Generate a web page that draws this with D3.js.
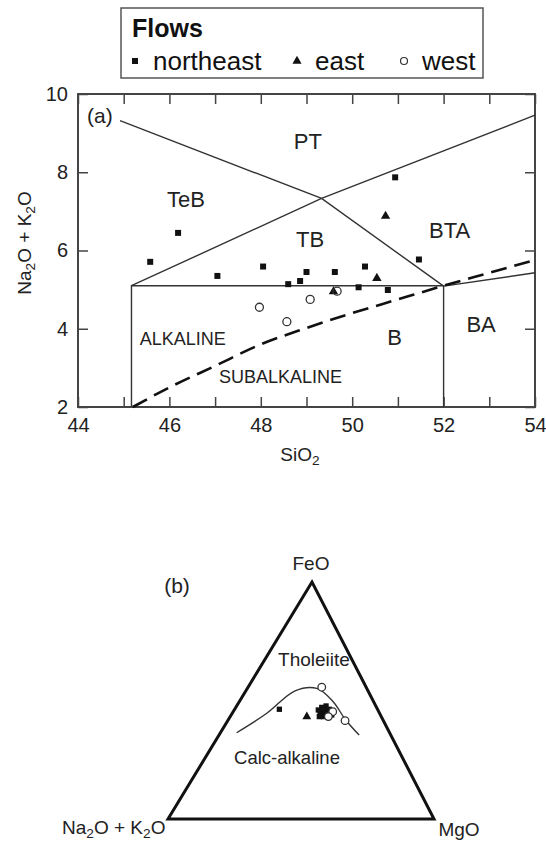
<!DOCTYPE html>
<html lang="en">
<head>
<meta charset="UTF-8">
<title>TAS and AFM diagrams</title>
<script src="https://d3js.org/d3.v7.min.js"></script>
<style>
  body { margin: 0; background: #fff; }
  svg { font-family: Arial, "Liberation Sans", Helvetica, sans-serif; }
</style>
</head>
<body>
<svg width="546" height="841"></svg>
<script>
    // ---- (a) SiO2 vs total alkali ----
    let northeast = [[45.58, 5.71], [46.19, 6.45], [47.05, 5.35], [48.05, 5.59], [48.60, 5.14],
                     [48.86, 5.22], [49.00, 5.45], [49.62, 5.45], [50.14, 5.06], [50.28, 5.59],
                     [50.78, 4.99], [51.46, 5.77], [50.94, 7.87]];
    let east = [[50.73, 6.88], [50.54, 5.29], [49.59, 4.95]];
    let west = [[47.97, 4.55], [48.57, 4.18], [49.08, 4.75], [49.67, 4.96]];

    let xTicks = [44, 45, 46, 47, 48, 49, 50, 51, 52, 53, 54];
    let yTicks = [2, 4, 6, 8, 10];

    let fieldLines = [
        [[44.92, 9.32], [49.33, 7.33], [52, 5.09]],
        [[45.17, 2], [45.17, 5.1], [52, 5.1], [52, 2]],
        [[45.17, 5.1], [49.33, 7.33], [54, 9.46]],
        [[52, 5.09], [54, 5.43]]
    ];
    let alkalineDivide = [[45.2, 2.0], [46, 2.5], [47, 3.05], [48, 3.6], [49, 4.02], [50, 4.4],
                          [51, 4.75], [52, 5.1], [53, 5.43], [54, 5.76]];
    let fieldNames = [
        { name: 'PT', x: 49.03, y: 8.80 }, { name: 'TeB', x: 46.36, y: 7.32 },
        { name: 'TB', x: 49.08, y: 6.29 }, { name: 'BTA', x: 52.13, y: 6.52 },
        { name: 'B', x: 50.93, y: 3.78 }, { name: 'BA', x: 52.82, y: 4.13 }
    ];
    let seriesNames = ['northeast', 'east', 'west'];

    // ---- (b) AFM ternary, [A, F, M] percent ----
    let afmNortheast = [[36.9, 46.3, 16.8], [22.4, 46.0, 31.6], [20.6, 47.1, 32.3], [19.8, 46.3, 33.9],
                        [22.5, 44.3, 33.2], [20.9, 44.6, 34.5], [19.3, 45.3, 35.4], [19.8, 43.5, 36.7],
                        [21.8, 43.2, 35.0], [23.3, 43.2, 33.5], [18.7, 47.7, 33.6], [18.3, 43.9, 37.8],
                        [18.1, 46.3, 35.6]];
    let afmEast = [[28.0, 43.2, 28.8], [21.4, 45.1, 33.5], [20.5, 43.9, 35.6]];
    let afmWest = [[16.7, 55.6, 27.7], [17.3, 45.3, 37.4], [19.9, 43.2, 36.9], [14.4, 41.5, 44.1]];
    let afmDivide = [[57.5, 36.4, 6.1], [42.4, 44.6, 13.0], [27.4, 54.1, 18.5], [18.8, 55.1, 26.1],
                     [15.2, 49.5, 35.3], [14.1, 42.1, 43.8], [11.9, 35.4, 52.7]];

    let ink = '#333';
    let svg = d3.select('svg');

    // text with subscripts: parts like ['Na', ['2'], 'O + K', ['2'], 'O']
    function richText(sel, parts) {
        let shift = 0;
        parts.forEach(p => {
            if (Array.isArray(p)) {
                sel.append('tspan').attr('dy', '0.28em').attr('font-size', '72%').text(p[0]);
                shift = 1;
            } else {
                let t = sel.append('tspan').text(p);
                if (shift) t.attr('dy', '-0.2em');
                shift = 0;
            }
        });
        return sel;
    }

    // ---------- legend ----------
    let legend = svg.append('g');
    legend.append('rect').attr('x', 121).attr('y', 8).attr('width', 362).attr('height', 70)
        .attr('fill', 'none').attr('stroke', '#555').attr('stroke-width', 1.5);
    legend.append('text').attr('x', 132).attr('y', 37).attr('font-size', 25).attr('font-weight', 'bold')
        .attr('fill', '#111').text('Flows');
    let legendX = [135, 297, 404];
    seriesNames.forEach((name, i) => {
        let g = legend.append('g').attr('transform', `translate(${legendX[i]},61)`);
        if (i == 0) g.append('path').attr('d', d3.symbol(d3.symbolSquare, 36)()).attr('fill', '#111');
        if (i == 1) g.append('path').attr('d', d3.symbol(d3.symbolTriangle, 36)()).attr('fill', '#111');
        if (i == 2) g.append('circle').attr('r', 3.5).attr('fill', 'white').attr('stroke', ink).attr('stroke-width', 1.2);
        legend.append('text').attr('x', legendX[i] + 18).attr('y', 70).attr('font-size', 26).attr('fill', '#111').text(name);
    });

    // ---------- (a) ----------
    let x = d3.scaleLinear().domain([44, 54]).range([78, 535]);
    let y = d3.scaleLinear().domain([2, 10]).range([407, 94]);

    let axisStyle = g => {
        g.select('.domain').remove();
        g.selectAll('.tick line').attr('stroke', '#444').attr('stroke-width', 1.5);
        g.selectAll('.tick text').attr('font-size', 20).attr('fill', '#222')
            .attr('font-family', 'Arial, "Liberation Sans", sans-serif');
    };

    svg.append('g').attr('transform', 'translate(0,407)')
        .call(d3.axisBottom(x).tickValues(xTicks).tickSizeInner(-10).tickSizeOuter(0).tickPadding(11)
            .tickFormat(d => d % 2 == 0 ? d : ''))
        .call(axisStyle);
    svg.append('g').attr('transform', 'translate(0,94)')
        .call(d3.axisTop(x).tickValues(xTicks).tickSizeInner(-10).tickSizeOuter(0).tickFormat(''))
        .call(axisStyle);
    svg.append('g').attr('transform', 'translate(78,0)')
        .call(d3.axisLeft(y).tickValues(yTicks).tickSizeInner(-10).tickSizeOuter(0).tickPadding(10))
        .call(axisStyle);
    svg.append('g').attr('transform', 'translate(535,0)')
        .call(d3.axisRight(y).tickValues(yTicks).tickSizeInner(-10).tickSizeOuter(0).tickFormat(''))
        .call(axisStyle);

    svg.append('rect').attr('x', 78).attr('y', 94).attr('width', 457).attr('height', 313)
        .attr('fill', 'none').attr('stroke', '#444').attr('stroke-width', 2);

    let line = d3.line().x(d => x(d[0])).y(d => y(d[1]));
    svg.append('g').selectAll('path').data(fieldLines).join('path')
        .attr('d', line).attr('fill', 'none').attr('stroke', ink).attr('stroke-width', 1.4);
    svg.append('path').datum(alkalineDivide)
        .attr('d', line.curve(d3.curveMonotoneX))
        .attr('fill', 'none').attr('stroke', '#111').attr('stroke-width', 2.6).attr('stroke-dasharray', '16,8');

    svg.append('g').selectAll('text').data(fieldNames).join('text')
        .attr('x', d => x(d.x)).attr('y', d => y(d.y)).attr('dy', '0.36em')
        .attr('text-anchor', 'middle').attr('font-size', 22).attr('fill', '#222').text(d => d.name);
    svg.append('text').attr('x', x(46.29)).attr('y', y(3.74)).attr('dy', '0.36em').attr('text-anchor', 'middle')
        .attr('font-size', 18).attr('fill', '#222').text('ALKALINE');
    svg.append('text').attr('x', x(48.43)).attr('y', y(2.78)).attr('dy', '0.36em').attr('text-anchor', 'middle')
        .attr('font-size', 18).attr('fill', '#222').text('SUBALKALINE');
    svg.append('text').attr('x', x(44.48)).attr('y', y(9.44)).attr('dy', '0.36em').attr('text-anchor', 'middle')
        .attr('font-size', 21).attr('fill', '#222').text('(a)');

    richText(svg.append('text').attr('x', 300).attr('y', 461).attr('text-anchor', 'middle')
        .attr('font-size', 19).attr('fill', '#222'), ['SiO', ['2']]);
    richText(svg.append('text').attr('transform', 'translate(31,243) rotate(-90)').attr('text-anchor', 'middle')
        .attr('font-size', 19).attr('fill', '#222'), ['Na', ['2'], 'O + K', ['2'], 'O']);

    let pa = svg.append('g');
    pa.selectAll('.ne').data(northeast).join('path').attr('class', 'ne')
        .attr('transform', d => `translate(${x(d[0])},${y(d[1])})`)
        .attr('d', d3.symbol(d3.symbolSquare, 36)).attr('fill', '#111');
    pa.selectAll('.ea').data(east).join('path').attr('class', 'ea')
        .attr('transform', d => `translate(${x(d[0])},${y(d[1])})`)
        .attr('d', d3.symbol(d3.symbolTriangle, 38)).attr('fill', '#111');
    pa.selectAll('circle').data(west).join('circle')
        .attr('cx', d => x(d[0])).attr('cy', d => y(d[1])).attr('r', 4)
        .attr('fill', 'none').attr('stroke', ink).attr('stroke-width', 1.3);

    // ---------- (b) AFM ternary ----------
    let cornerA = [168, 819], cornerF = [312, 582], cornerM = [434, 819];
    let frac = d3.scaleLinear().domain([0, 100]).range([0, 1]);
    function project(d) {
        let s = d[0] + d[1] + d[2];
        let a = frac(d[0] / s * 100), f = frac(d[1] / s * 100), m = frac(d[2] / s * 100);
        return [a * cornerA[0] + f * cornerF[0] + m * cornerM[0], a * cornerA[1] + f * cornerF[1] + m * cornerM[1]];
    }

    svg.append('path').datum([[100, 0, 0], [0, 100, 0], [0, 0, 100]])
        .attr('d', d => d3.line()(d.map(project)) + 'Z')
        .attr('fill', 'none').attr('stroke', '#111').attr('stroke-width', 3).attr('stroke-linejoin', 'miter');
    svg.append('path').datum(afmDivide)
        .attr('d', d => d3.line().curve(d3.curveCatmullRom)(d.map(project)))
        .attr('fill', 'none').attr('stroke', ink).attr('stroke-width', 1.4);

    let pb = svg.append('g');
    pb.selectAll('.ne').data(afmNortheast).join('path').attr('class', 'ne')
        .attr('transform', d => `translate(${project(d)})`)
        .attr('d', d3.symbol(d3.symbolSquare, 28)).attr('fill', '#111');
    pb.selectAll('.ea').data(afmEast).join('path').attr('class', 'ea')
        .attr('transform', d => `translate(${project(d)})`)
        .attr('d', d3.symbol(d3.symbolTriangle, 34)).attr('fill', '#111');
    pb.selectAll('circle').data(afmWest).join('circle')
        .attr('cx', d => project(d)[0]).attr('cy', d => project(d)[1]).attr('r', 3.8)
        .attr('fill', 'white').attr('stroke', ink).attr('stroke-width', 1.3);

    svg.append('text').attr('x', 311).attr('y', 570).attr('text-anchor', 'middle')
        .attr('font-size', 19).attr('fill', '#222').text('FeO');
    svg.append('text').attr('x', 177).attr('y', 593).attr('text-anchor', 'middle')
        .attr('font-size', 21).attr('fill', '#222').text('(b)');
    svg.append('text').attr('x', 314).attr('y', 666).attr('text-anchor', 'middle')
        .attr('font-size', 19).attr('fill', '#222').text('Tholeiite');
    svg.append('text').attr('x', 287).attr('y', 764).attr('text-anchor', 'middle')
        .attr('font-size', 18.5).attr('fill', '#222').text('Calc-alkaline');
    richText(svg.append('text').attr('x', 62).attr('y', 834)
        .attr('font-size', 19).attr('fill', '#222'), ['Na', ['2'], 'O + K', ['2'], 'O']);
    svg.append('text').attr('x', 459).attr('y', 836).attr('text-anchor', 'middle')
        .attr('font-size', 19).attr('fill', '#222').text('MgO');
</script>
</body>
</html>
